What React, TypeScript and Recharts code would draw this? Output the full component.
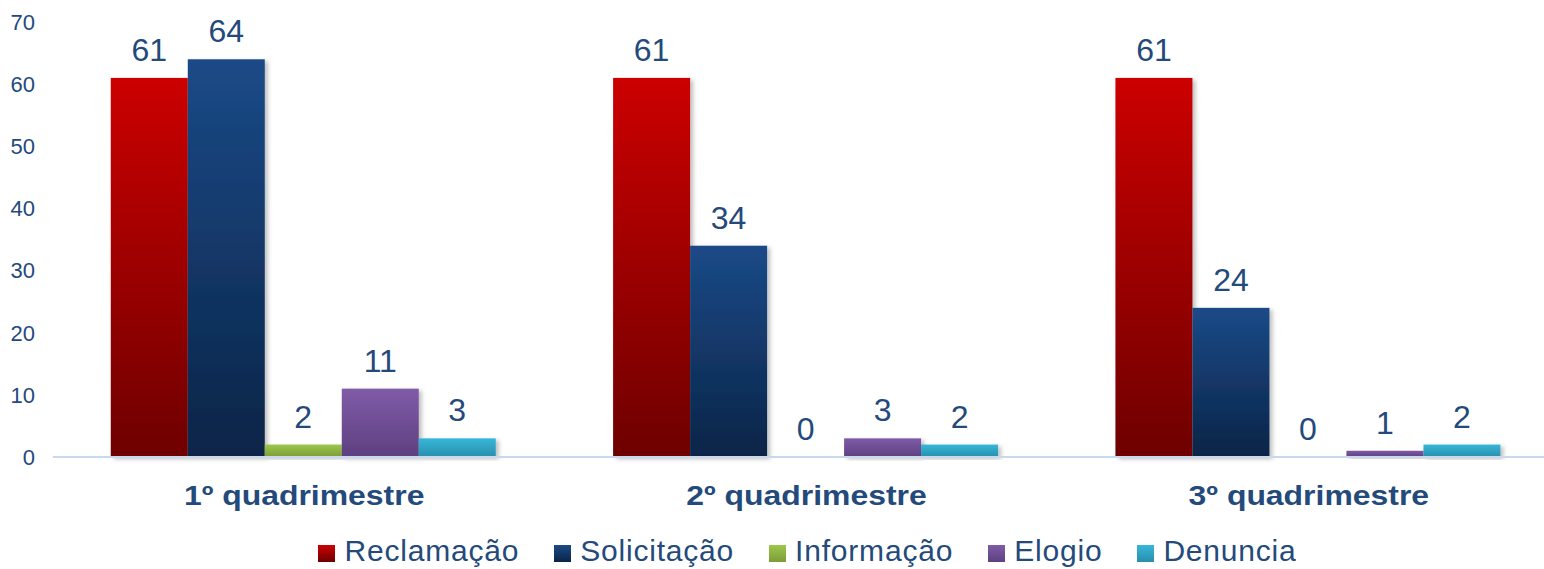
import { BarChart, Bar, XAxis, YAxis, LabelList } from 'recharts';

const categories = ['1º quadrimestre', '2º quadrimestre', '3º quadrimestre'];
const reclamacao = [61, 61, 61];
const solicitacao = [64, 34, 24];
const informacao = [2, 0, 0];
const elogio = [11, 3, 1];
const denuncia = [3, 2, 2];
const yTicks = [0, 10, 20, 30, 40, 50, 60, 70];

const SERIES = [
  { key: 'reclamacao', name: 'Reclamação', top: '#CC0000', bottom: '#6E0000' },
  { key: 'solicitacao', name: 'Solicitação', top: '#1B4A87', bottom: '#0A2447' },
  { key: 'informacao', name: 'Informação', top: '#9DC74A', bottom: '#7D9C38' },
  { key: 'elogio', name: 'Elogio', top: '#805BA8', bottom: '#5E4080' },
  { key: 'denuncia', name: 'Denuncia', top: '#37B6DA', bottom: '#288FAB' },
];

const TEXT = '#244A7B';
const FONT = '"Liberation Sans", Arial, sans-serif';

const data = categories.map((name, i) => ({
  name,
  reclamacao: reclamacao[i],
  solicitacao: solicitacao[i],
  informacao: informacao[i],
  elogio: elogio[i],
  denuncia: denuncia[i],
}));

// bold category labels, a bit wider than plain Arial like the original
const CategoryTick = ({ x, y, payload }: any) => (
  <text
    transform={`translate(${x} ${y}) scale(1.14 1)`}
    dy="0.71em"
    textAnchor="middle"
    fill={TEXT}
    fontSize={28}
    fontWeight="bold"
    fontFamily={FONT}
  >
    {payload.value}
  </text>
);

const ShadowBar = (p: any) => (
  <rect x={p.x} y={p.y} width={p.width} height={p.height} fill={p.fill} filter="url(#barShadow)" />
);

export default function App() {
  return (
    <div style={{ position: 'relative', width: 1560, height: 569, fontFamily: FONT }}>
      <style>{'body{margin:0;overflow:hidden}'}</style>
      <BarChart
        width={1560}
        height={530}
        data={data}
        margin={{ top: 22, right: 0, bottom: 0, left: 0 }}
        barCategoryGap="11.5%"
        barGap={0}
      >
        <defs>
          {SERIES.map((s) => (
            <linearGradient key={s.key} id={`grad-${s.key}`} x1="0" y1="0" x2="0" y2="1">
              <stop offset="0%" stopColor={s.top} />
              <stop offset="100%" stopColor={s.bottom} />
            </linearGradient>
          ))}
          <filter id="barShadow" x="-10%" y="-10%" width="130%" height="130%">
            <feDropShadow dx="3" dy="2" stdDeviation="2" floodColor="#000" floodOpacity="0.25" />
          </filter>
        </defs>
        <XAxis
          dataKey="name"
          height={73}
          tickLine={false}
          tickSize={0}
          tickMargin={28}
          axisLine={{ stroke: '#C8D8EE', strokeWidth: 2 }}
          tick={<CategoryTick />}
        />
        <YAxis
          width={53}
          domain={[0, 70]}
          ticks={yTicks}
          axisLine={false}
          tickLine={false}
          tickSize={0}
          tickMargin={18}
          tick={{ fill: TEXT, fontSize: 22, fontFamily: FONT }}
        />
        {SERIES.map((s) => (
          <Bar
            key={s.key}
            dataKey={s.key}
            name={s.name}
            fill={`url(#grad-${s.key})`}
            shape={<ShadowBar />}
            isAnimationActive={false}
          >
            <LabelList
              dataKey={s.key}
              position="top"
              offset={17}
              fill={TEXT}
              fontSize={32}
              fontFamily={FONT}
            />
          </Bar>
        ))}
      </BarChart>
      <div
        style={{
          position: 'absolute',
          top: 536,
          left: 0,
          width: 1560,
          boxSizing: 'border-box',
          paddingLeft: 55,
          display: 'flex',
          justifyContent: 'center',
          gap: 35,
          fontSize: 30,
          lineHeight: '30px',
          color: TEXT,
          letterSpacing: '0.8px',
        }}
      >
        {SERIES.map((s) => (
          <div key={s.key} style={{ display: 'flex', alignItems: 'center' }}>
            <span
              style={{
                width: 17,
                height: 17,
                marginRight: 9,
                marginTop: 4,
                background: `linear-gradient(${s.top}, ${s.bottom})`,
              }}
            />
            <span>{s.name}</span>
          </div>
        ))}
      </div>
    </div>
  );
}
